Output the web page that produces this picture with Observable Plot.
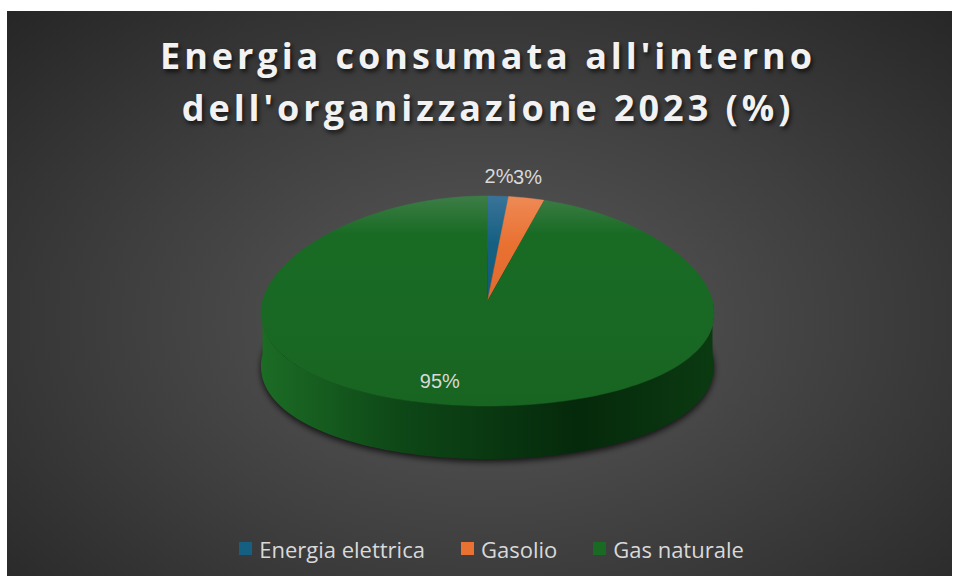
<!DOCTYPE html>
<html>
<head>
<meta charset="utf-8">
<script src="https://cdn.jsdelivr.net/npm/d3@7"></script>
<script src="https://cdn.jsdelivr.net/npm/@observablehq/plot@0.6"></script>
<style>
  html, body { margin: 0; padding: 0; background: #ffffff; }
  #chart {
    position: absolute; left: 7px; top: 11px; width: 945px; height: 565px;
    background: radial-gradient(ellipse farthest-corner at 51% 55%, #5a5a5a 0%, #3e3e3e 55%, #262626 100%);
    overflow: hidden;
  }
  #title {
    box-sizing: border-box; height: 130px; padding-top: 19px;
    text-align: center; color: #f2f2f2; position: relative; left: 6.5px;
    font-family: "Open Sans", sans-serif;
    font-weight: bold; font-size: 36px; line-height: 52px;
    text-shadow: 2px 3px 4px rgba(0,0,0,0.65);
  }
  #title span { display: inline-block; white-space: nowrap; }
  #legend {
    height: 55px; display: flex; justify-content: center; align-items: center;
    font-family: "Open Sans", sans-serif; font-size: 22px; color: #d9d9d9;
    position: relative; left: 12px;
  }
  .item { display: flex; align-items: center; margin: 0 18px; }
  .sw { width: 13px; height: 13px; margin-right: 7px; }
  svg { display: block; }
</style>
</head>
<body>
<div id="chart">
  <div id="title"><span id="t1">Energia consumata all'interno</span><br><span id="t2">dell'organizzazione 2023 (%)</span></div>
  <div id="plot"></div>
  <div id="legend"></div>
</div>
<script>
// ---- data ----
const categories = ["Energia elettrica", "Gasolio", "Gas naturale"];
const values = [1.7, 2.9, 95.4];          // percent shares
const colors = ["#156082", "#E97132", "#196B24"];
const topColors = ["#3a7399", "#ee8a55", "#3d7d47"];   // lighter top edge of each slice
const sideStops = [["0%", "#1c6c25"], ["30%", "#0e4817"], ["70%", "#05290b"], ["100%", "#0b3a11"]];

// ---- geometry (in radius units) ----
const W = 945, H = 380;
const RX = 225;                 // px per radius unit
const CX = 480, CY = 159.5;     // pie centre in px inside the svg
const tilt = 105 / 225;         // vertical squash of the top face
const depth = 53 / 225;         // thickness of the pie
const persp = 0.12;             // far edge narrower than near edge
const N = 180;

const total = d3.sum(values);
let acc = 0;
const slices = values.map((v, i) => {
  const a0 = acc / total * 2 * Math.PI;
  acc += v;
  const a1 = acc / total * 2 * Math.PI;
  return {i, name: categories[i], value: v, a0, a1, mid: (a0 + a1) / 2};
});

const proj = (a, r = 1, dy = 0) => ({x: Math.sin(a) * r * (1 - persp * Math.cos(a) * r), y: Math.cos(a) * r * tilt - dy});

function arcPts(a0, a1, dy = 0) {
  const n = Math.max(2, Math.ceil((a1 - a0) / (2 * Math.PI) * N));
  return d3.range(n + 1).map(k => proj(a0 + (a1 - a0) * k / n, 1, dy));
}

const marks = [];
// shadow under the pie
marks.push(Plot.line(arcPts(0, 2 * Math.PI, depth + 0.012), {x: "x", y: "y", fill: "#000", fillOpacity: 0.75, stroke: "none"}));
// side walls (front half only)
slices.forEach(s => {
  const b0 = Math.max(s.a0, Math.PI / 2), b1 = Math.min(s.a1, 3 * Math.PI / 2);
  if (b1 <= b0) return;
  const pts = arcPts(b0, b1).concat(arcPts(b0, b1, depth).reverse());
  marks.push(Plot.line(pts, {x: "x", y: "y", fill: `url(#side${s.i})`, stroke: "none"}));
});
// top faces
slices.forEach(s => {
  const pts = [{x: 0, y: 0}].concat(arcPts(s.a0, s.a1));
  marks.push(Plot.line(pts, {x: "x", y: "y", fill: `url(#top${s.i})`, stroke: `url(#top${s.i})`, strokeWidth: 0.5}));
});
// labels
const outside = slices.filter(s => s.value < 10).map(s => ({...proj(s.mid), t: Math.round(s.value) + "%"}));
const inside = slices.filter(s => s.value >= 10).map(s => ({...proj(s.mid, 0.78), t: Math.round(s.value) + "%"}));
const labelStyle = {fill: "#d9d9d9", fontSize: 20, fontFamily: "Liberation Sans, Arial, sans-serif"};
marks.push(Plot.text(outside, {x: "x", y: "y", text: "t", dy: -20, dx: 1, ...labelStyle}));
marks.push(Plot.text(inside, {x: "x", y: "y", text: "t", dx: -20, ...labelStyle}));

const svg = Plot.plot({
  width: W, height: H, margin: 0,
  style: {background: "transparent", overflow: "visible"},
  x: {domain: [-CX / RX, (W - CX) / RX], axis: null},
  y: {domain: [-(H - CY) / RX, CY / RX], axis: null},
  marks
});

// gradients
const sel = d3.select(svg);
const defs = sel.insert("defs", ":first-child");
slices.forEach(s => {
  const g = defs.append("linearGradient").attr("id", `top${s.i}`).attr("x1", 0).attr("y1", 0).attr("x2", 0).attr("y2", 1);
  g.append("stop").attr("offset", "0%").attr("stop-color", topColors[s.i]);
  g.append("stop").attr("offset", s.value > 50 ? "18%" : "45%").attr("stop-color", colors[s.i]);
  g.append("stop").attr("offset", "100%").attr("stop-color", d3.color(colors[s.i]).darker(0.15));
  const sg = defs.append("linearGradient").attr("id", `side${s.i}`).attr("x1", 0).attr("y1", 0).attr("x2", 1).attr("y2", 0);
  sideStops.forEach(([o, c]) => {
    const base = d3.color(colors[s.i]), ref = d3.color(colors[2]), cc = d3.color(c);
    const k = d3.hsl(cc).l / d3.hsl(ref).l;
    sg.append("stop").attr("offset", o).attr("stop-color", s.i === 2 ? c : d3.hsl(base.formatHex()).copy({l: d3.hsl(base).l * k}).formatHex());
  });
});
const f = defs.append("filter").attr("id", "blur").attr("x", "-10%").attr("y", "-10%").attr("width", "120%").attr("height", "130%");
f.append("feGaussianBlur").attr("stdDeviation", 3);
sel.selectAll("g[aria-label=line]").filter((d, i) => i === 0).attr("filter", "url(#blur)");

document.getElementById("plot").appendChild(svg);

// legend
const leg = d3.select("#legend");
categories.forEach((c, i) => {
  const it = leg.append("div").attr("class", "item");
  it.append("div").attr("class", "sw").style("background", colors[i]);
  it.append("span").text(c);
});

// fit title letter spacing to the reference width
const t1 = document.getElementById("t1"), t2 = document.getElementById("t2");
const w1 = t1.getBoundingClientRect().width;
const ls = (652 - w1) / (t1.textContent.length - 1);
[t1, t2].forEach(t => { t.style.letterSpacing = ls + "px"; t.style.marginRight = (-ls) + "px"; });
</script>
</body>
</html>
